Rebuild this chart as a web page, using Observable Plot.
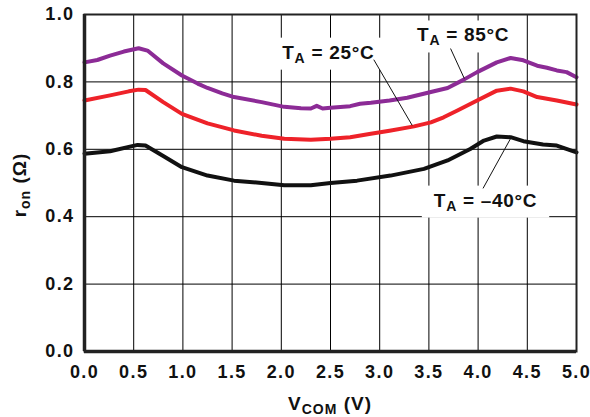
<!DOCTYPE html>
<html><head><meta charset="utf-8">
<script src="https://cdn.jsdelivr.net/npm/d3@7"></script>
<script src="https://cdn.jsdelivr.net/npm/@observablehq/plot@0.6"></script>
<style>
body{margin:0;background:#fff}
#chart svg text{letter-spacing:0.7px}
#chart svg g[aria-label$="tick label"] text{letter-spacing:1.4px}
#chart svg text.title{letter-spacing:1px}
</style>
</head><body><div id="chart"></div>
<script>
// T_A = 85°C
const vcom85 = [0,0.13,0.26,0.4,0.55,0.64,0.8,0.99,1.15,1.25,1.4,1.52,1.8,2.03,2.2,2.3,2.36,2.42,2.5,2.7,2.8,2.91,3.1,3.28,3.52,3.69,3.85,3.99,4.19,4.33,4.46,4.6,4.7,4.8,4.9,5.0];
const ron85  = [0.858,0.865,0.878,0.89,0.9,0.893,0.855,0.819,0.795,0.782,0.766,0.755,0.74,0.726,0.722,0.721,0.729,0.721,0.723,0.728,0.735,0.738,0.745,0.753,0.77,0.782,0.806,0.829,0.858,0.871,0.864,0.848,0.842,0.834,0.829,0.814];
// T_A = 25°C
const vcom25 = [0,0.26,0.45,0.55,0.62,0.8,0.99,1.25,1.52,1.8,2.03,2.3,2.5,2.7,2.91,3.1,3.35,3.52,3.65,3.79,3.99,4.19,4.33,4.46,4.6,4.8,5.0];
const ron25  = [0.745,0.76,0.772,0.777,0.776,0.74,0.705,0.677,0.656,0.64,0.631,0.628,0.631,0.636,0.646,0.655,0.668,0.68,0.695,0.715,0.745,0.774,0.78,0.772,0.755,0.745,0.733];
// T_A = -40°C
const vcomM40 = [0,0.26,0.54,0.62,0.8,0.99,1.25,1.52,1.8,2.03,2.3,2.5,2.77,3.11,3.45,3.69,3.92,4.06,4.19,4.33,4.46,4.66,4.8,5.0];
const ronM40  = [0.587,0.594,0.613,0.611,0.58,0.547,0.522,0.507,0.5,0.493,0.493,0.5,0.507,0.522,0.542,0.567,0.601,0.626,0.638,0.636,0.624,0.614,0.611,0.591];

const xTicks = [0,0.5,1,1.5,2,2.5,3,3.5,4,4.5,5];
const yTicks = [0,0.2,0.4,0.6,0.8,1.0];

// annotations
const annotMain = ["T","T","T"];
const annotSub  = ["A","A","A"];
const annotRest = [" = 85°C"," = 25°C"," = –40°C"];
const annotX = [3.38, 2.01, 3.55];
const annotY = [0.938, 0.887, 0.448];
const leadX1 = [3.72, 2.94, 4.05];
const leadY1 = [0.899, 0.866, 0.484];
const leadX2 = [3.86, 3.33, 4.33];
const leadY2 = [0.810, 0.671, 0.632];

const colors = {p85:"#8c2b96", p25:"#ee2229", m40:"#111111"};
const FONT = "'Liberation Sans', Arial, Helvetica, sans-serif";
const idx = d3.range(3);

const line = (xs, ys, c) => Plot.line(xs.map((x,i)=>({x, y: ys[i]})), {x:"x", y:"y", stroke:c, strokeWidth:4, strokeLinejoin:"round", strokeLinecap:"round"});

const chart = Plot.plot({
  width: 590, height: 417,
  marginLeft: 84, marginRight: 14, marginTop: 14, marginBottom: 66,
  style: {fontFamily: FONT, fontSize: "18px", fontWeight: "bold", color: "#111", background: "#fff"},
  x: {domain: [0,5], label: null},
  y: {domain: [0,1], label: null},
  marks: [
    Plot.gridX({ticks: xTicks, stroke: "#000", strokeOpacity: 1, strokeWidth: 1}),
    Plot.gridY({ticks: yTicks, stroke: "#000", strokeOpacity: 1, strokeWidth: 1}),
    line(vcom85, ron85, colors.p85),
    line(vcom25, ron25, colors.p25),
    line(vcomM40, ronM40, colors.m40),
    Plot.frame({stroke: "#222", strokeWidth: 2}),
    Plot.ruleX([0], {stroke: "#222", strokeWidth: 3.5}),
    Plot.ruleY([0], {stroke: "#222", strokeWidth: 3.5}),
    Plot.axisX({ticks: xTicks, tickSize: 0, tickPadding: 14, tickFormat: d3.format(".1f"), label: null}),
    Plot.axisY({ticks: yTicks, tickSize: 0, tickPadding: 10, tickFormat: d3.format(".1f"), label: null}),
    Plot.text(idx, {x: i=>annotX[i], y: i=>annotY[i], text: i=>annotMain[i]+annotSub[i]+annotRest[i], textAnchor: "start", lineAnchor: "middle", fontSize: 19, fontWeight: "bold", fill: "#111"}),
    Plot.link(idx, {x1: i=>leadX1[i], y1: i=>leadY1[i], x2: i=>leadX2[i], y2: i=>leadY2[i], stroke: "#111", strokeWidth: 1})
  ]
});
document.getElementById("chart").appendChild(chart);

const svg = d3.select(chart);
// subscripts for annotations
const annTexts = svg.selectAll("text").filter(function() { return this.textContent.startsWith("TA ="); });
annTexts.each(function(d, k) {
  const t = d3.select(this);
  t.text(null);
  t.append("tspan").text(annotMain[k]);
  t.append("tspan").attr("font-size", 14).attr("dy", 4).text(annotSub[k]);
  t.append("tspan").attr("dy", -4).text(annotRest[k]);
});
// white boxes behind annotations
const firstAnn = annTexts.node();
if (firstAnn) {
  const textG = firstAnn.parentNode;
  const boxG = document.createElementNS("http://www.w3.org/2000/svg", "g");
  textG.parentNode.insertBefore(boxG, textG);
  const gtr = textG.getAttribute("transform");
  if (gtr) boxG.setAttribute("transform", gtr);
  annTexts.each(function() {
    const b = this.getBBox();
    const r = d3.select(boxG).append("rect")
      .attr("x", b.x - 12).attr("y", b.y - 4)
      .attr("width", b.width + 24).attr("height", b.height + 8)
      .attr("fill", "#fff");
    const tr = this.getAttribute("transform");
    if (tr) r.attr("transform", tr);
  });
}
// axis titles with subscripts
const yl = svg.append("text").attr("class", "title").attr("transform", "translate(26,185) rotate(-90)")
  .attr("text-anchor", "middle").attr("font-size", 19).attr("fill", "#111");
yl.append("tspan").text("r");
yl.append("tspan").attr("font-size", 14).attr("dy", 4).text("on");
yl.append("tspan").attr("dy", -4).text(" (Ω)");
const xl = svg.append("text").attr("class", "title").attr("x", 330).attr("y", 410)
  .attr("text-anchor", "middle").attr("font-size", 19).attr("fill", "#111");
xl.append("tspan").text("V");
xl.append("tspan").attr("font-size", 14).attr("dy", 4).text("COM");
xl.append("tspan").attr("dy", -4).text(" (V)");
</script>
</body></html>
